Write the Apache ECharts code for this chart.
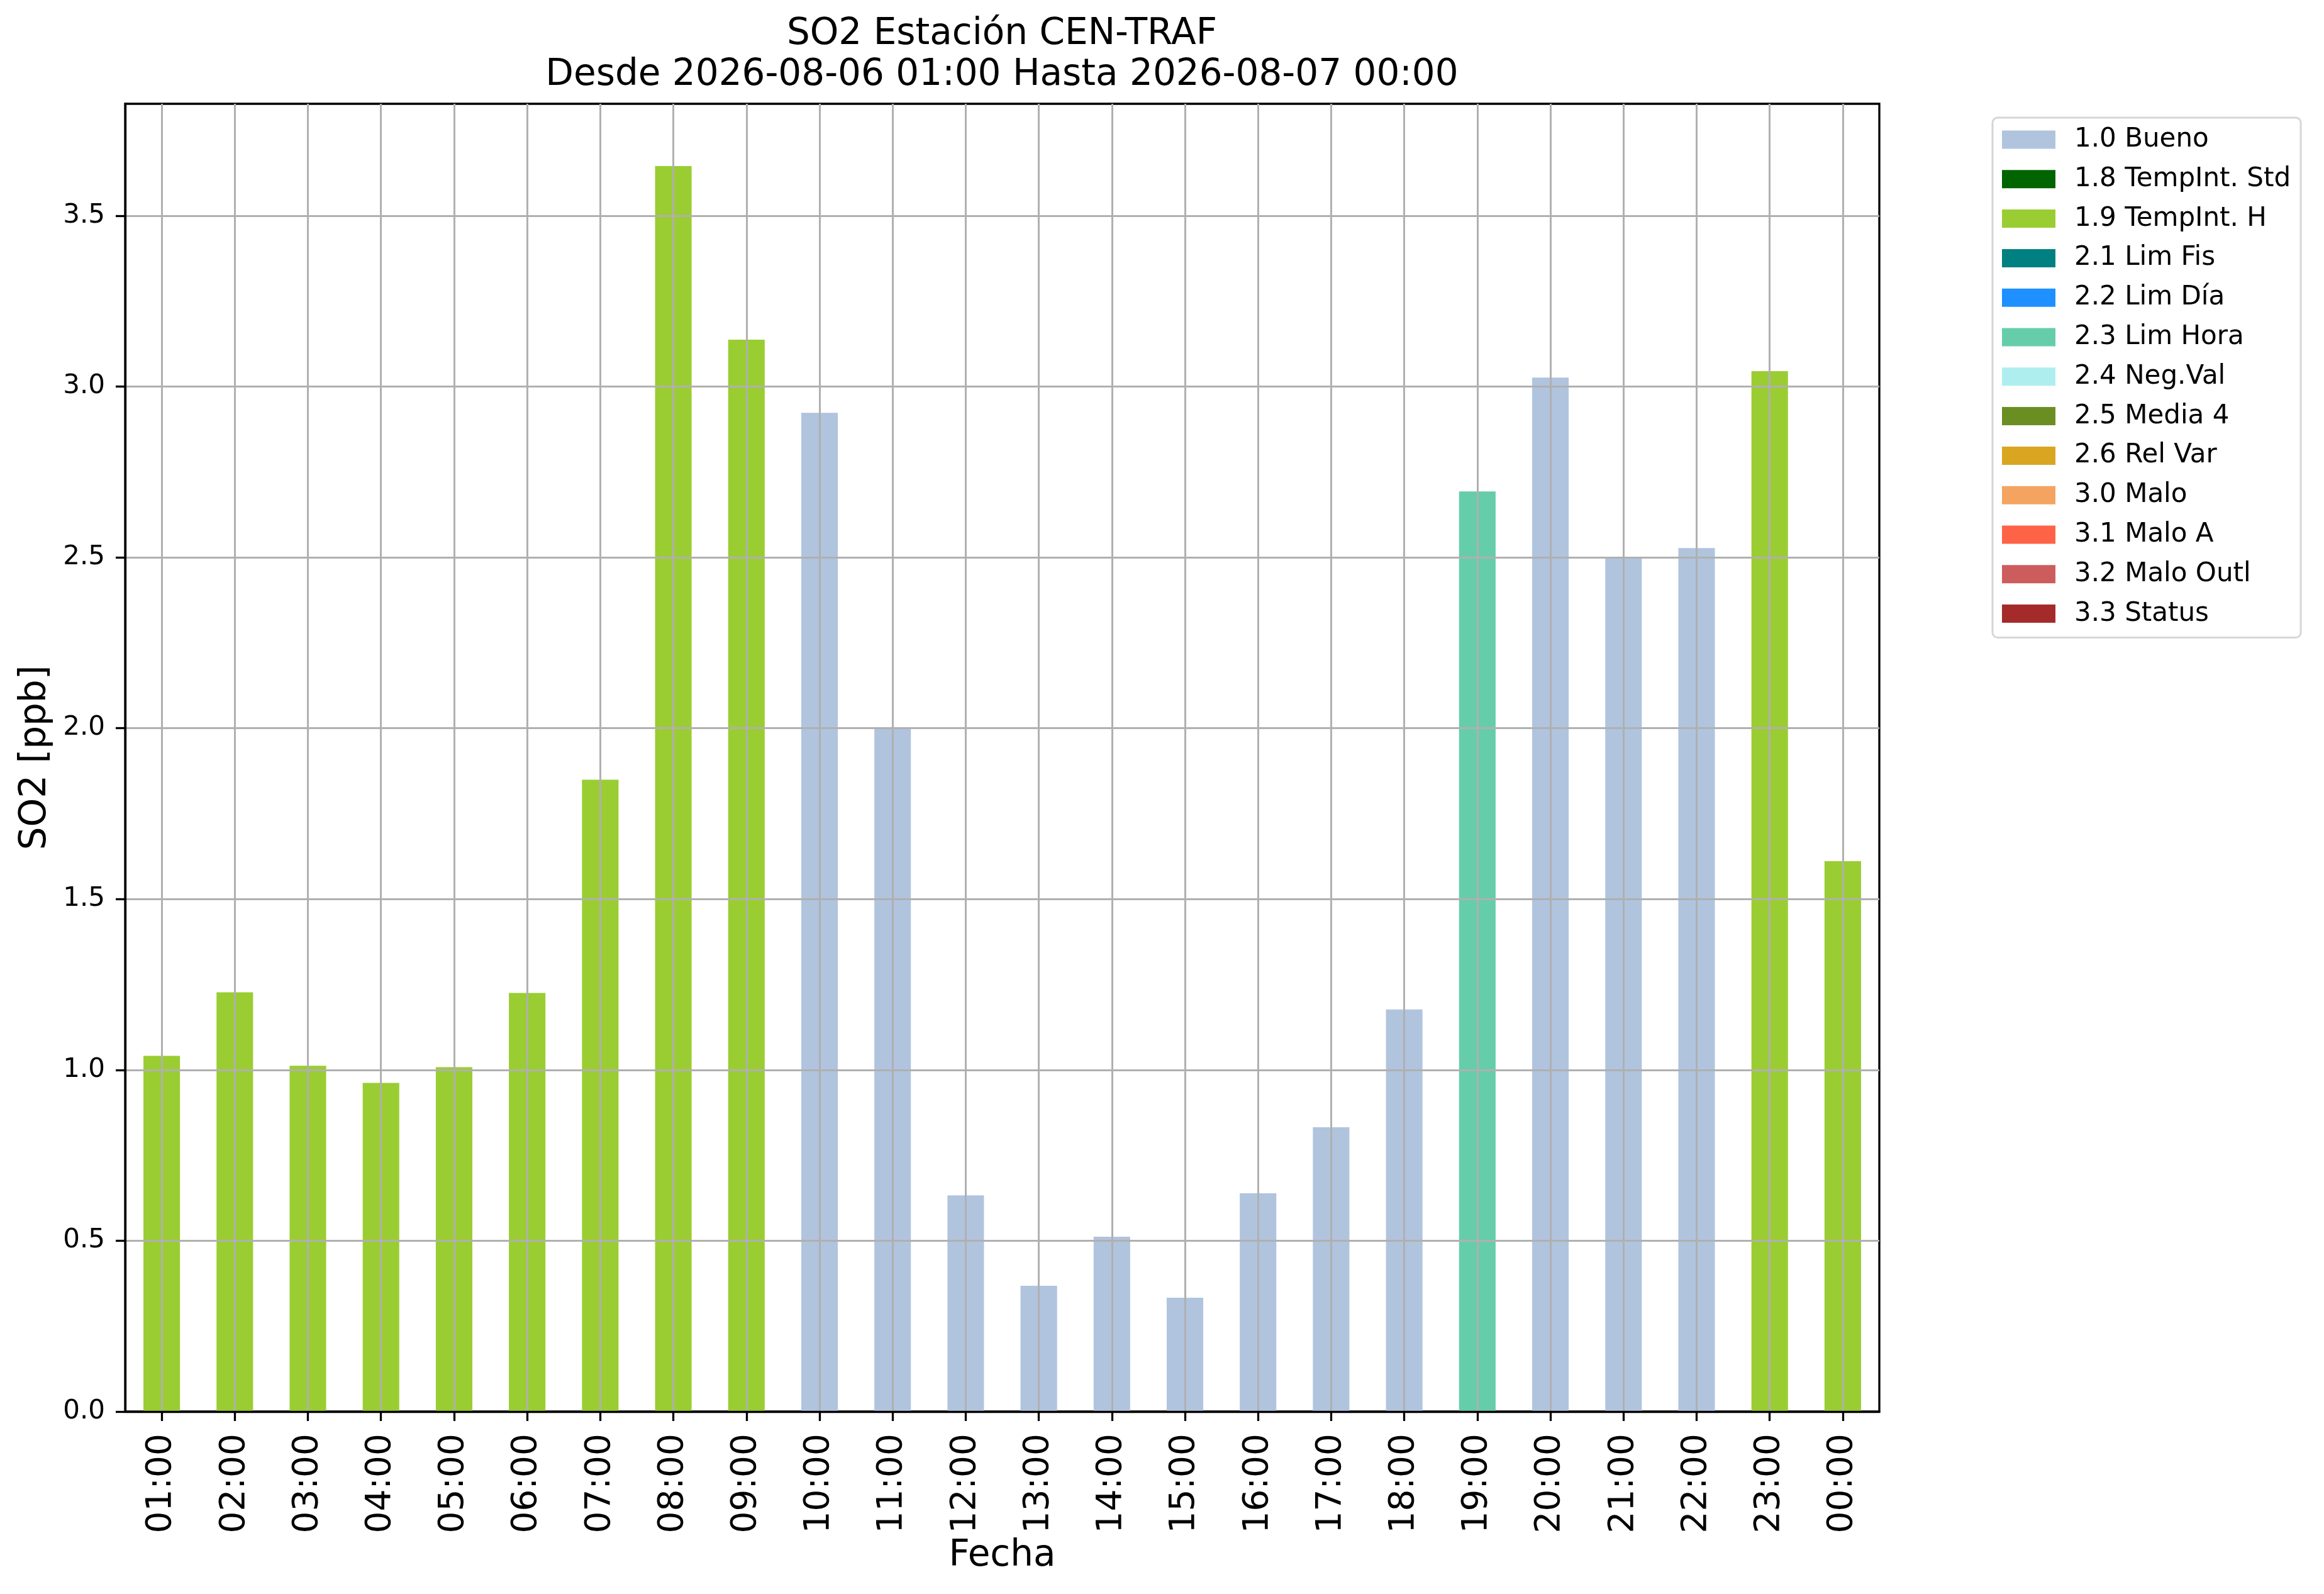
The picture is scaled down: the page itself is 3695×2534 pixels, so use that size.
<!DOCTYPE html>
<html>
<head>
<meta charset="utf-8">
<title>SO2 Estación CEN-TRAF</title>
<script src="https://cdn.jsdelivr.net/npm/echarts@6/dist/echarts.min.js"></script>
<style>
    html, body { margin: 0; padding: 0; background: #ffffff; }
    #grafico { width: 3695px; height: 2534px; }
</style>
</head>
<body>
<div id="grafico"></div>
<script>
// Datos horarios de SO2 (ppb) y su flag de validacion
var horas = ['01:00', '02:00', '03:00', '04:00', '05:00', '06:00', '07:00', '08:00',
    '09:00', '10:00', '11:00', '12:00', '13:00', '14:00', '15:00', '16:00',
    '17:00', '18:00', '19:00', '20:00', '21:00', '22:00', '23:00', '00:00'];
var valores = [1.041, 1.227, 1.012, 0.962, 1.008, 1.225, 1.849, 3.645,
    3.137, 2.923, 1.999, 0.633, 0.368, 0.512, 0.333, 0.639,
    0.832, 1.177, 2.693, 3.026, 2.499, 2.527, 3.045, 1.611];
var flags = ['1.9', '1.9', '1.9', '1.9', '1.9', '1.9', '1.9', '1.9',
    '1.9', '1.0', '1.0', '1.0', '1.0', '1.0', '1.0', '1.0',
    '1.0', '1.0', '2.3', '1.0', '1.0', '1.0', '1.9', '1.9'];

// Leyenda de flags
var codigos = ['1.0', '1.8', '1.9', '2.1', '2.2', '2.3', '2.4', '2.5', '2.6', '3.0', '3.1', '3.2', '3.3'];
var etiquetas = ['1.0 Bueno', '1.8 TempInt. Std', '1.9 TempInt. H', '2.1 Lim Fis', '2.2 Lim Día',
    '2.3 Lim Hora', '2.4 Neg.Val', '2.5 Media 4', '2.6 Rel Var', '3.0 Malo', '3.1 Malo A',
    '3.2 Malo Outl', '3.3 Status'];
var colores = ['#B0C4DE', '#006400', '#9ACD32', '#008080', '#1E90FF', '#66CDAA', '#AFEEEE',
    '#6B8E23', '#DAA520', '#F4A460', '#FF6347', '#CD5C5C', '#A52A2A'];

var yTicks = [0, 0.5, 1.0, 1.5, 2.0, 2.5, 3.0, 3.5];

var FUENTE = 'DejaVu Sans';

document.addEventListener('DOMContentLoaded', function() {
    initGraficoSO2();
});

function initGraficoSO2() {
    var chartDom = document.getElementById('grafico');
    var myChart = echarts.init(chartDom);

    var yMax = Math.max.apply(null, valores) * 1.05;

    // una serie apilada por flag, cada hora solo tiene valor en su flag
    var series = codigos.map(function(c, k) {
        return {
            name: etiquetas[k],
            type: 'bar',
            stack: 'flag',
            barWidth: '50%',
            itemStyle: { color: colores[k] },
            emphasis: { disabled: true },
            data: valores.map(function(v, i) { return flags[i] === c ? v : '-'; })
        };
    });

    var option = {
        animation: false,
        backgroundColor: '#ffffff',
        title: {
            text: 'SO2 Estación CEN-TRAF\nDesde 2026-08-06 01:00 Hasta 2026-08-07 00:00',
            left: 1593,
            top: 22,
            padding: 0,
            textAlign: 'center',
            textStyle: {
                fontFamily: FUENTE,
                fontSize: 58,
                fontWeight: 'normal',
                color: '#000',
                lineHeight: 65
            }
        },
        legend: {
            orient: 'vertical',
            left: 3168,
            top: 187,
            padding: [14, 16, 17, 15],
            itemWidth: 85,
            itemHeight: 29,
            itemGap: 20.8,
            icon: 'rect',
            selectedMode: false,
            backgroundColor: '#ffffff',
            borderColor: '#d6d6d6',
            borderWidth: 3,
            borderRadius: 8,
            textStyle: {
                fontFamily: FUENTE,
                fontSize: 42,
                lineHeight: 42,
                color: '#000',
                padding: [0, 0, 0, 25]
            },
            data: etiquetas
        },
        grid: {
            left: 199,
            top: 165,
            right: 707,
            bottom: 290,
            show: true,
            borderColor: '#000',
            borderWidth: 3.3,
            backgroundColor: 'transparent',
            outerBoundsMode: 'none'
        },
        xAxis: {
            type: 'category',
            data: horas,
            z: 3,
            name: 'Fecha',
            nameLocation: 'middle',
            nameGap: 190,
            nameTextStyle: { fontFamily: FUENTE, fontSize: 58, color: '#000' },
            axisLine: { show: true, lineStyle: { color: '#000', width: 3.3 } },
            axisTick: { show: true, alignWithLabel: true, length: 15, lineStyle: { color: '#000', width: 3.3 } },
            axisLabel: { rotate: 90, interval: 0, margin: 35, fontFamily: FUENTE, fontSize: 55, color: '#000' },
            splitLine: { show: true, alignWithLabel: true, interval: 0, lineStyle: { color: '#b0b0b0', width: 3 } }
        },
        yAxis: {
            type: 'value',
            min: 0,
            max: yMax,
            interval: 0.5,
            z: 3,
            name: 'SO2 [ppb]',
            nameLocation: 'middle',
            nameRotate: 90,
            nameGap: 113,
            nameTextStyle: { fontFamily: FUENTE, fontSize: 58, color: '#000' },
            axisLine: { show: true, lineStyle: { color: '#000', width: 3.3 } },
            axisTick: { show: true, length: 15, customValues: yTicks, lineStyle: { color: '#000', width: 3.3 } },
            axisLabel: {
                margin: 32,
                fontFamily: FUENTE,
                fontSize: 42,
                color: '#000',
                customValues: yTicks,
                formatter: function(v) { return v.toFixed(1); }
            },
            splitLine: { show: true, showMinLine: false, lineStyle: { color: '#b0b0b0', width: 3 } }
        },
        series: series
    };

    myChart.setOption(option);

    window.addEventListener('resize', function() {
        myChart.resize();
    });
}
</script>
</body>
</html>
